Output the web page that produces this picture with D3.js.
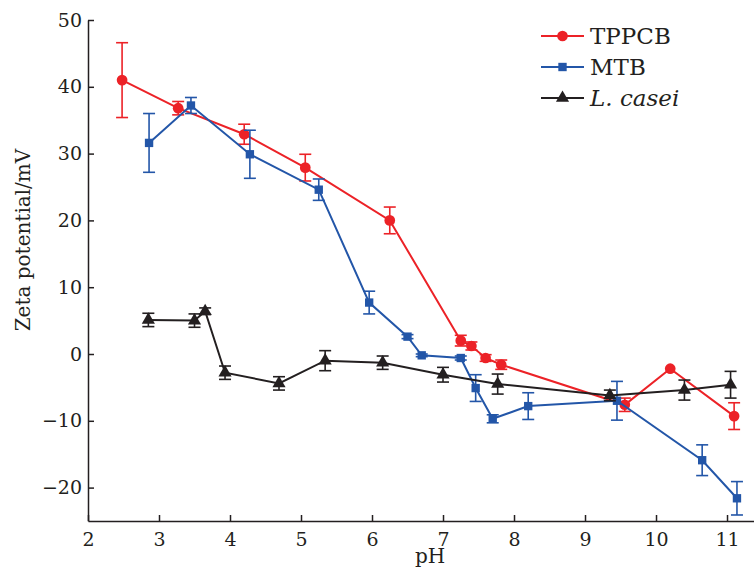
<!DOCTYPE html>
<html>
<head>
<meta charset="utf-8">
<script src="https://cdn.jsdelivr.net/npm/d3@7"></script>
<style>
  body { margin: 0; background: #fff; overflow: hidden; }
  svg { display: block; }
</style>
</head>
<body>
<div id="chart"></div>
<script>
// TPPCB
const tppcbPH  = [2.48, 3.27, 4.2, 5.06, 6.25, 7.25, 7.4, 7.6, 7.82, 9.56, 10.2, 11.1];
const tppcbVal = [41.0, 36.8, 32.9, 27.9, 20.0, 2.0, 1.2, -0.6, -1.6, -7.6, -2.2, -9.3];
const tppcbErr = [5.6, 1.0, 1.5, 2.0, 2.0, 0.8, 0.6, 0.5, 0.7, 1.0, 0.0, 2.0];
// MTB
const mtbPH  = [2.86, 3.45, 4.28, 5.25, 5.96, 6.5, 6.7, 7.25, 7.46, 7.7, 8.2, 9.45, 10.65, 11.14];
const mtbVal = [31.6, 37.2, 29.9, 24.6, 7.7, 2.6, -0.2, -0.6, -5.1, -9.7, -7.8, -7.0, -15.9, -21.6];
const mtbErr = [4.4, 1.2, 3.6, 1.6, 1.7, 0.3, 0.2, 0.3, 2.0, 0.6, 2.0, 2.9, 2.3, 2.5];
// L. casei
const caseiPH  = [2.85, 3.5, 3.65, 3.93, 4.69, 5.34, 6.15, 7.0, 7.77, 9.35, 10.4, 11.05];
const caseiVal = [5.1, 5.0, 6.4, -2.8, -4.4, -1.0, -1.3, -3.1, -4.5, -6.2, -5.4, -4.6];
const caseiErr = [1.0, 1.0, 0.5, 1.0, 1.0, 1.5, 1.0, 1.1, 1.5, 0.8, 1.5, 2.0];

const xTicks = [2, 3, 4, 5, 6, 7, 8, 9, 10, 11];
const yTicks = [-20, -10, 0, 10, 20, 30, 40, 50];

const FONT = "'DejaVu Serif', serif";
const INK = "#231f20";

const width = 754, height = 574;
const margin = {top: 20, right: 0, bottom: 53, left: 88};
const innerWidth = width - margin.left - margin.right;
const innerHeight = height - margin.top - margin.bottom;

const svg = d3.select("#chart").append("svg")
    .attr("width", width)
    .attr("height", height);
const g = svg.append("g")
    .attr("transform", `translate(${margin.left},${margin.top})`);

const x = d3.scaleLinear().domain([2, 11.38]).range([0, innerWidth]);
const y = d3.scaleLinear().domain([-25, 50]).range([innerHeight, 0]);

// axes (ticks pointing inward)
const xAxis = g.append("g")
    .attr("transform", `translate(0,${innerHeight})`)
    .call(d3.axisBottom(x).tickValues(xTicks).tickSize(-6).tickPadding(12).tickSizeOuter(0));
const yAxis = g.append("g")
    .call(d3.axisLeft(y).tickValues(yTicks).tickSize(-6).tickPadding(6).tickSizeOuter(0)
        .tickFormat(d => d < 0 ? "\u2212" + Math.abs(d) : d));
[xAxis, yAxis].forEach(a => {
    a.attr("font-family", null);
    a.selectAll("path, line").attr("stroke", INK).attr("stroke-width", 1.5);
    a.selectAll("text")
        .style("font-family", FONT)
        .style("font-size", "19px")
        .attr("fill", INK);
});

// axis labels
svg.append("text")
    .attr("x", 430).attr("y", 563)
    .style("text-anchor", "middle").style("font-size", "20px")
    .style("font-family", FONT).attr("fill", INK)
    .text("pH");
svg.append("text")
    .attr("transform", "translate(30,240) rotate(-90)")
    .style("text-anchor", "middle").style("font-size", "20px")
    .style("font-family", FONT).attr("fill", INK)
    .text("Zeta potential/mV");

const series = [
    {name: "TPPCB", color: "#ec2227", ph: tppcbPH, val: tppcbVal, err: tppcbErr, shape: d3.symbolCircle, size: 90},
    {name: "MTB", color: "#2356a8", ph: mtbPH, val: mtbVal, err: mtbErr, shape: d3.symbolSquare, size: 70},
    {name: "L. casei", color: INK, ph: caseiPH, val: caseiVal, err: caseiErr, shape: d3.symbolTriangle, size: 75}
];

const line = d3.line().x(d => x(d.ph)).y(d => y(d.val));

series.forEach(s => {
    const pts = s.ph.map((p, i) => ({ph: p, val: s.val[i], err: s.err[i]}));
    const sg = g.append("g");
    sg.append("path")
        .datum(pts)
        .attr("d", line)
        .attr("fill", "none")
        .attr("stroke", s.color)
        .attr("stroke-width", 2);
    // error bars
    const eb = sg.selectAll(".eb").data(pts.filter(d => d.err > 0)).join("g");
    eb.append("line")
        .attr("x1", d => x(d.ph)).attr("x2", d => x(d.ph))
        .attr("y1", d => y(d.val + d.err)).attr("y2", d => y(d.val - d.err))
        .attr("stroke", s.color).attr("stroke-width", 1.6);
    [1, -1].forEach(sign => {
        eb.append("line")
            .attr("x1", d => x(d.ph) - 6).attr("x2", d => x(d.ph) + 6)
            .attr("y1", d => y(d.val + sign * d.err)).attr("y2", d => y(d.val + sign * d.err))
            .attr("stroke", s.color).attr("stroke-width", 1.6);
    });
    sg.selectAll(".mk").data(pts).join("path")
        .attr("transform", d => `translate(${x(d.ph)},${y(d.val)})`)
        .attr("d", d3.symbol().type(s.shape).size(s.size))
        .attr("fill", s.color);
});

// legend
const legend = svg.append("g").attr("transform", "translate(541,36)");
series.forEach((s, i) => {
    const lg = legend.append("g").attr("transform", `translate(0,${i * 31})`);
    lg.append("line").attr("x1", 0).attr("x2", 43).attr("y1", 0).attr("y2", 0)
        .attr("stroke", s.color).attr("stroke-width", 2);
    lg.append("path").attr("transform", "translate(21.5,0)")
        .attr("d", d3.symbol().type(s.shape).size(s.size)).attr("fill", s.color);
    const t = lg.append("text")
        .attr("x", 49).attr("y", 8)
        .style("font-family", FONT)
        .style("font-size", "23px")
        .attr("fill", INK)
        .text(s.name);
    if (i === 2) t.style("font-style", "italic");
});
</script>
</body>
</html>
